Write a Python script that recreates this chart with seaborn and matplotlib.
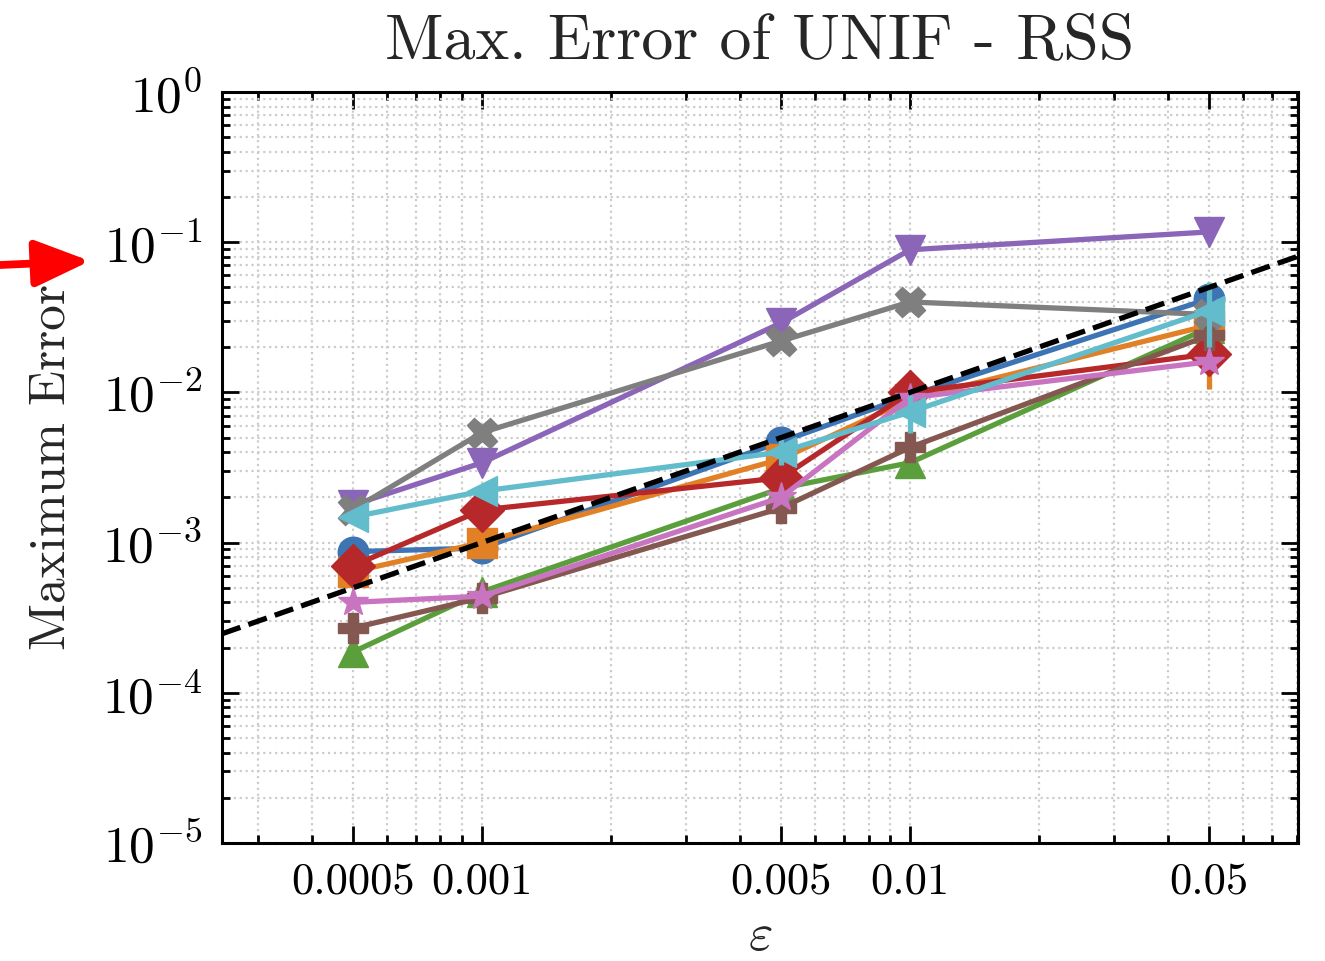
import numpy as np
import matplotlib
matplotlib.use("Agg")
import matplotlib.pyplot as plt
import matplotlib.ticker as mticker
import seaborn as sns

# values
eps = [0.0005, 0.001, 0.005, 0.01, 0.05]

blue_err = [8.7e-4, 9.2e-4, 4.7e-3, 9.5e-3, 4.2e-2]
orange_err = [6.4e-4, 1.0e-3, 3.6e-3, 9.0e-3, 2.8e-2]
green_err = [1.87e-4, 4.7e-4, 2.3e-3, 3.4e-3, 2.7e-2]
red_err = [7.0e-4, 1.65e-3, 2.7e-3, 1.0e-2, 1.8e-2]
purple_err = [1.78e-3, 3.4e-3, 2.9e-2, 8.9e-2, 1.17e-1]
brown_err = [2.7e-4, 4.3e-4, 1.7e-3, 4.3e-3, 2.4e-2]
pink_err = [4.0e-4, 4.4e-4, 2.0e-3, 9.2e-3, 1.6e-2]
gray_err = [1.66e-3, 5.4e-3, 2.2e-2, 4.0e-2, 3.3e-2]
cyan_err = [1.48e-3, 2.2e-3, 4.0e-3, 7.4e-3, 3.5e-2]

# visible spread (lower, upper) of a few points
orange_lo = [6.4e-4, 1.0e-3, 3.6e-3, 9.0e-3, 1.05e-2]
orange_hi = [6.4e-4, 1.0e-3, 3.6e-3, 9.0e-3, 2.9e-2]
cyan_lo = [1.48e-3, 2.2e-3, 3.3e-3, 5.4e-3, 2.0e-2]
cyan_hi = [1.48e-3, 2.2e-3, 4.9e-3, 9.6e-3, 5.4e-2]

series = [
    ("blue", blue_err, "o"),
    ("orange", orange_err, "s"),
    ("green", green_err, "^"),
    ("red", red_err, "D"),
    ("purple", purple_err, "v"),
    ("brown", brown_err, "P"),
    ("pink", pink_err, "*"),
    ("gray", gray_err, "X"),
    ("cyan", cyan_err, "<"),
]
# tab10-like tones as they appear in the picture
colors = {
    "blue": "#3c74b4", "orange": "#e28025", "green": "#5b9f3c", "red": "#b7282b",
    "purple": "#8a65b8", "brown": "#845850", "pink": "#c874c1", "gray": "#7f7f7f",
    "cyan": "#62bccc",
}

sns.set_style("ticks")
plt.rcParams["font.family"] = "serif"
plt.rcParams["font.serif"] = ["cmr10", "DejaVu Serif"]
plt.rcParams["mathtext.fontset"] = "cm"
plt.rcParams["axes.formatter.use_mathtext"] = True
plt.rcParams["axes.unicode_minus"] = True

fig = plt.figure(figsize=(6.625, 4.805), dpi=200)
ax = fig.add_axes([0.1675, 0.1228, 0.8121, 0.7815])

for name, vals, mk in series:
    c = colors[name]
    sns.lineplot(x=eps, y=vals, ax=ax, color=c, marker=mk, markersize=11,
                 markeredgecolor=c, markeredgewidth=0.5, linewidth=1.9)
    if name == "orange":
        ax.errorbar(eps, vals, yerr=[np.array(vals) - np.array(orange_lo), np.array(orange_hi) - np.array(vals)],
                    fmt="none", ecolor=c, elinewidth=1.9)
    if name == "cyan":
        ax.errorbar(eps, vals, yerr=[np.array(vals) - np.array(cyan_lo), np.array(cyan_hi) - np.array(vals)],
                    fmt="none", ecolor=c, elinewidth=1.9)

# reference slope-1 line
ax.axline((1e-3, 1e-3), (1e-2, 1e-2), color="black", linestyle="--", linewidth=1.9, zorder=5)

ax.set_xscale("log")
ax.set_yscale("log")
ax.set_xlim(2.47e-4, 0.0806)
ax.set_ylim(1e-5, 1)

ax.set_xticks(eps)
ax.set_xticklabels(["0.0005", "0.001", "0.005", "0.01", "0.05"])
ax.xaxis.set_minor_locator(mticker.LogLocator(base=10, subs=np.arange(2, 10), numticks=20))
ax.xaxis.set_minor_formatter(mticker.NullFormatter())
ax.yaxis.set_major_locator(mticker.LogLocator(base=10, numticks=10))
ax.yaxis.set_minor_locator(mticker.LogLocator(base=10, subs=np.arange(2, 10), numticks=20))
ax.yaxis.set_minor_formatter(mticker.NullFormatter())

ax.tick_params(which="both", direction="in", top=True, right=True, width=1.0, colors="black")
ax.tick_params(axis="x", which="major", labelsize=16, pad=7)
ax.tick_params(axis="y", which="major", labelsize=18.5, pad=7)
ax.tick_params(which="major", length=6)
ax.tick_params(which="minor", length=3)
for sp in ax.spines.values():
    sp.set_linewidth(1.1)
    sp.set_color("black")

ax.grid(True, which="both", linestyle=":", color="#cccccc", linewidth=0.8)
ax.set_axisbelow(True)

ax.set_title("Max. Error of UNIF - RSS", fontsize=23, pad=12)
ax.set_xlabel(r"$\varepsilon$", fontsize=19)
ax.set_ylabel("Maximum Error", fontsize=18.5)
ax.yaxis.set_label_coords(-0.137, 0.5)
ax.xaxis.set_label_coords(0.5, -0.093)

ax.annotate("", xy=(90 / 1325, 1 - 261 / 961), xytext=(0, 1 - 265 / 961),
            xycoords="figure fraction", textcoords="figure fraction",
            arrowprops=dict(arrowstyle="-|>,head_length=0.4,head_width=0.17", color="red",
                            lw=2.8, mutation_scale=42, shrinkA=0, shrinkB=0),
            annotation_clip=False)

fig.savefig("out.png", dpi=200)
